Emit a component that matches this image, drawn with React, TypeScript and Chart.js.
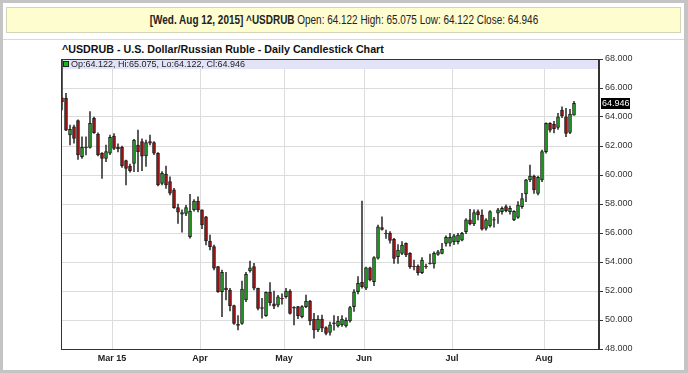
import React, { useEffect, useRef } from "react";
import { Chart, registerables } from "chart.js";

Chart.register(...registerables);

const symbol = "^USDRUB";
const chartTitle = "^USDRUB - U.S. Dollar/Russian Ruble - Daily Candlestick Chart";
const headerDate = "[Wed. Aug 12, 2015]";

const dates = [
  "02-11","02-12","02-13","02-16","02-17","02-18","02-19","02-20","02-23","02-24","02-25","02-26","02-27",
  "03-02","03-03","03-04","03-05","03-06","03-09","03-10","03-11","03-12","03-13","03-16","03-17","03-18","03-19","03-20","03-23","03-24","03-25","03-26","03-27","03-30","03-31",
  "04-01","04-02","04-06","04-07","04-08","04-09","04-10","04-13","04-14","04-15","04-16","04-17","04-20","04-21","04-22","04-23","04-24","04-27","04-28","04-29","04-30",
  "05-01","05-04","05-05","05-06","05-07","05-08","05-11","05-12","05-13","05-14","05-15","05-18","05-19","05-20","05-21","05-22","05-26","05-27","05-28","05-29",
  "06-01","06-02","06-03","06-04","06-05","06-08","06-09","06-10","06-11","06-12","06-15","06-16","06-17","06-18","06-19","06-22","06-23","06-24","06-25","06-26","06-29","06-30",
  "07-01","07-02","07-03","07-06","07-07","07-08","07-09","07-10","07-13","07-14","07-15","07-16","07-17","07-20","07-21","07-22","07-23","07-24","07-27","07-28","07-29","07-30","07-31",
  "08-03","08-04","08-05","08-06","08-07","08-10","08-11","08-12",
];

const opens = [
  65.33,65.29,62.76,63.33,63.75,61.27,61.92,61.9,63.9,62.83,
  61.5,61.15,61.5,62.69,61.9,61.9,61.0,60.62,60.8,62.07,
  62.3,61.31,62.3,62.23,61.5,59.42,60.07,59.54,58.97,57.75,
  57.4,57.35,55.75,57.59,58.21,57.59,57.12,55.45,55.06,53.68,
  51.95,52.2,52.07,50.99,49.7,49.77,51.38,53.38,53.68,52.19,
  50.85,50.3,51.93,51.12,51.03,51.49,51.61,52.0,50.88,50.92,
  50.23,50.92,51.31,50.07,49.31,50.07,49.47,49.14,49.8,49.6,
  49.66,49.6,49.93,50.92,51.95,52.6,52.19,53.6,52.64,54.26,
  56.37,56.0,55.99,55.56,54.37,54.6,55.29,54.6,53.7,53.72,
  53.26,53.7,53.93,53.86,54.53,54.6,55.29,55.3,55.4,55.4,
  55.5,56.1,56.9,56.62,57.47,57.24,56.31,56.48,56.92,57.36,
  57.47,57.82,57.47,56.9,57.08,57.82,58.69,59.66,59.93,58.73,
  59.66,61.61,63.56,63.5,63.28,64.48,64.02,62.94,64.122,
];

const highs = [
  67.9,65.63,63.45,63.45,63.8,62.64,62.64,64.37,64.0,62.9,
  61.55,62.07,62.75,62.85,62.15,62.0,61.03,60.75,62.46,63.1,
  62.5,62.41,62.76,62.3,61.55,60.23,60.62,59.88,59.08,58.0,
  57.59,57.9,58.67,58.3,58.5,57.6,57.15,55.86,55.17,53.7,
  53.45,53.29,52.19,51.03,50.3,52.69,53.29,54.07,53.91,52.2,
  51.5,51.95,52.58,52.0,51.7,51.8,52.19,52.1,50.92,50.95,
  51.0,51.72,51.35,50.46,50.3,50.34,49.55,49.85,50.3,50.25,
  50.3,50.15,50.95,52.1,53.0,58.2,53.65,53.65,54.37,56.55,
  57.12,56.2,56.1,55.63,55.2,55.4,55.33,54.65,54.14,53.8,
  54.3,53.85,54.55,54.71,54.8,55.29,55.8,55.97,55.9,55.97,
  56.05,57.0,57.63,57.59,57.59,57.59,57.0,57.55,57.08,57.7,
  57.8,57.95,57.85,57.55,58.16,58.73,59.7,60.69,60.0,59.93,
  61.72,63.6,63.62,63.7,64.25,64.71,64.6,64.53,65.075,
];

const lows = [
  64.48,63.06,62.07,62.19,61.08,61.15,61.38,61.85,62.87,61.31,
  59.77,60.92,61.4,61.75,61.6,60.53,59.31,60.2,60.23,60.23,
  60.3,60.6,62.07,61.4,59.25,59.31,59.08,58.62,57.7,56.66,
  56.05,57.2,55.65,57.5,57.45,56.3,55.17,54.83,53.45,51.9,
  50.23,51.38,50.62,49.7,49.31,49.7,51.26,53.3,52.07,50.69,
  50.12,50.25,51.0,50.78,50.9,51.1,51.5,50.4,49.66,50.1,
  50.15,50.85,49.66,48.74,49.2,49.2,48.97,48.95,49.3,49.5,
  49.55,49.5,49.85,50.6,51.8,52.2,52.1,52.7,52.37,54.2,
  56.2,55.63,55.3,53.9,53.9,54.5,54.37,53.55,53.45,53.1,
  53.2,53.55,53.85,53.57,54.45,54.55,55.1,55.1,55.2,55.25,
  55.45,55.95,56.55,56.5,56.9,56.2,56.2,56.4,56.4,56.66,
  57.3,57.45,57.3,56.85,57.0,57.7,58.16,59.54,58.73,58.62,
  59.54,61.5,62.95,62.9,63.15,63.95,62.64,62.85,64.122,
];

const closes = [
  65.05,63.1,63.15,62.52,61.38,61.9,61.88,63.56,62.92,61.38,
  61.15,61.61,62.6,61.84,61.8,60.62,60.46,60.3,62.41,61.61,
  61.3,62.23,62.2,61.5,59.31,60.11,59.31,58.74,57.75,57.43,
  57.3,57.75,57.52,58.21,57.59,56.55,55.45,55.06,53.57,51.95,
  53.29,52.1,50.99,49.77,49.62,52.14,53.15,53.6,52.19,50.8,
  50.8,51.91,51.2,50.95,51.6,51.45,52.0,50.46,50.82,50.3,
  50.92,51.31,49.93,49.31,50.07,49.43,49.08,49.66,49.75,49.93,
  50.07,49.98,50.85,51.95,52.53,52.3,53.6,52.76,54.3,56.43,
  56.24,55.95,55.48,54.24,54.83,55.17,54.48,53.68,53.66,53.26,
  54.14,53.66,53.89,54.6,54.71,54.87,55.7,55.7,55.8,55.86,
  55.97,56.9,56.62,57.4,57.24,56.26,56.9,57.47,56.88,57.59,
  57.7,57.54,57.7,57.5,57.93,58.38,59.66,59.93,58.97,59.84,
  61.61,63.56,63.1,63.2,64.02,64.07,62.87,64.2,64.946,
];

const monthKeys = ["03", "04", "05", "06", "07", "08"];
const monthLabels = ["Mar 15", "Apr", "May", "Jun", "Jul", "Aug"];

const yMin = 48;
const yMax = 68;
const yStep = 2;

const UP = "#1faa1f";
const DOWN = "#ad1010";
const SANS = 'Arial, "Liberation Sans", sans-serif';

export default function App() {
  const ref = useRef<HTMLCanvasElement>(null);
  const last = dates.length - 1;
  const f3 = (v: number) => v.toFixed(3);

  useEffect(() => {
    document.body.style.margin = "0";
    const n = dates.length;
    const bounds: { pos: number; label: string }[] = [];
    for (let i = 1; i < n; i++) {
      const m = dates[i].slice(0, 2);
      if (m !== dates[i - 1].slice(0, 2)) {
        const k = monthKeys.indexOf(m);
        if (k >= 0) bounds.push({ pos: i - 0.5, label: monthLabels[k] });
      }
    }

    const overlay = {
      id: "overlay",
      beforeDatasetsDraw(chart: any) {
        const { ctx, chartArea } = chart;
        ctx.save();
        ctx.fillStyle = "#e3e3f7";
        ctx.fillRect(chartArea.left, chartArea.top, chartArea.right - chartArea.left, 10);
        ctx.fillStyle = closes[last] >= opens[last] ? "#10c010" : DOWN;
        ctx.fillRect(chartArea.left + 2.5, chartArea.top + 2.5, 5, 5);
        ctx.strokeStyle = "#222";
        ctx.lineWidth = 1;
        ctx.strokeRect(chartArea.left + 2.5, chartArea.top + 2.5, 5, 5);
        ctx.fillStyle = "#222";
        ctx.font = "9px " + SANS;
        ctx.textBaseline = "middle";
        ctx.textAlign = "left";
        ctx.fillText(
          `Op:${f3(opens[last])}, Hi:${f3(highs[last])}, Lo:${f3(lows[last])}, Cl:${f3(closes[last])}`,
          chartArea.left + 10,
          chartArea.top + 5.5
        );
        ctx.restore();
      },
      afterDatasetsDraw(chart: any) {
        const { ctx, chartArea } = chart;
        ctx.save();
        ctx.strokeStyle = "#333";
        ctx.lineWidth = 1;
        ctx.strokeRect(
          Math.round(chartArea.left) + 0.5,
          Math.round(chartArea.top) + 0.5,
          Math.round(chartArea.right - chartArea.left) - 1,
          Math.round(chartArea.bottom - chartArea.top)
        );
        const y = chart.scales.y.getPixelForValue(closes[last]);
        ctx.fillStyle = "#000";
        ctx.fillRect(chartArea.right + 2, Math.round(y) - 5, 29, 11);
        ctx.fillStyle = "#fff";
        ctx.font = "9px " + SANS;
        ctx.textBaseline = "middle";
        ctx.textAlign = "left";
        ctx.fillText(f3(closes[last]), chartArea.right + 3, Math.round(y) + 0.5);
        ctx.restore();
      },
    };

    const chart = new Chart(ref.current as HTMLCanvasElement, {
      type: "bar",
      data: {
        datasets: [
          {
            label: "Body",
            data: dates.map((_, i) => ({ x: i, y: [opens[i], closes[i]] })) as any,
            backgroundColor: dates.map((_, i) => (closes[i] >= opens[i] ? UP : DOWN)),
            borderColor: "#1a1a1a",
            borderWidth: 1,
            borderSkipped: false,
            barThickness: 3,
            grouped: false,
            order: 1,
          } as any,
          {
            label: "Wick",
            data: dates.map((_, i) => ({ x: i, y: [lows[i], highs[i]] })) as any,
            backgroundColor: "#3a3a3a",
            barThickness: 1,
            grouped: false,
            order: 2,
          } as any,
        ],
      },
      options: {
        responsive: false,
        animation: false,
        layout: { padding: { left: 61, top: 59, right: 44, bottom: 8 } },
        plugins: { legend: { display: false }, tooltip: { enabled: false }, title: { display: false } },
        scales: {
          x: {
            type: "linear",
            offset: false,
            min: -0.25,
            max: 134.25,
            afterBuildTicks: (s: any) => {
              s.ticks = bounds.map((b) => ({ value: b.pos }));
            },
            afterFit: (s: any) => {
              s.height = 16;
            },
            ticks: {
              autoSkip: false,
              maxRotation: 0,
              padding: 4,
              color: "#222",
              font: { family: SANS, size: 9, weight: "bold" },
              callback: (v: any) => {
                const b = bounds.find((bb) => Math.abs(bb.pos - Number(v)) < 1e-6);
                return b ? b.label : "";
              },
            },
            grid: { color: "#dcdcdc", drawTicks: false, offset: false },
            border: { display: true, color: "#333" },
          },
          y: {
            position: "right",
            min: yMin,
            max: yMax,
            beginAtZero: false,
            afterFit: (s: any) => {
              s.width = 45;
            },
            ticks: {
              stepSize: yStep,
              padding: 2,
              color: "#333",
              font: { family: SANS, size: 9 },
              callback: (v: any) => Number(v).toFixed(3),
            },
            grid: { color: "#dcdcdc", tickColor: "#333", tickLength: 4 },
            border: { display: true, color: "#333" },
          },
        } as any,
      },
      plugins: [overlay],
    });
    return () => chart.destroy();
  }, []);

  return (
    <div style={{ position: "relative", width: 688, height: 373, background: "#c4c4c4", overflow: "hidden" }}>
      <div style={{ position: "absolute", left: 3, top: 3, width: 681, height: 367, background: "#fff" }} />
      <div
        style={{
          position: "absolute",
          left: 6,
          top: 7,
          width: 673,
          height: 24,
          background: "#fdfdd0",
          border: "1px solid #d4d4b8",
          fontFamily: SANS,
          fontSize: 12,
          color: "#222",
          lineHeight: "24px",
          textAlign: "center",
          whiteSpace: "nowrap",
        }}
      >
        <span style={{ display: "inline-block", transform: "scaleX(0.83)", transformOrigin: "center" }}>
          <b>{headerDate} {symbol}</b> Open: {f3(opens[last])} High: {f3(highs[last])} Low: {f3(lows[last])} Close: {f3(closes[last])}
        </span>
      </div>
      <div style={{ position: "absolute", left: 3, top: 39, width: 681, height: 1, background: "#d8d8d8" }} />
      <div
        style={{
          position: "absolute",
          left: 62,
          top: 42,
          fontFamily: SANS,
          fontWeight: "bold",
          fontSize: 11.5,
          lineHeight: "14px",
          color: "#111",
          whiteSpace: "nowrap",
          transform: "scaleX(0.93)",
          transformOrigin: "left center",
        }}
      >
        {chartTitle}
      </div>
      <canvas ref={ref} width={688} height={373} style={{ position: "absolute", left: 0, top: 0, width: 688, height: 373 }} />
    </div>
  );
}
